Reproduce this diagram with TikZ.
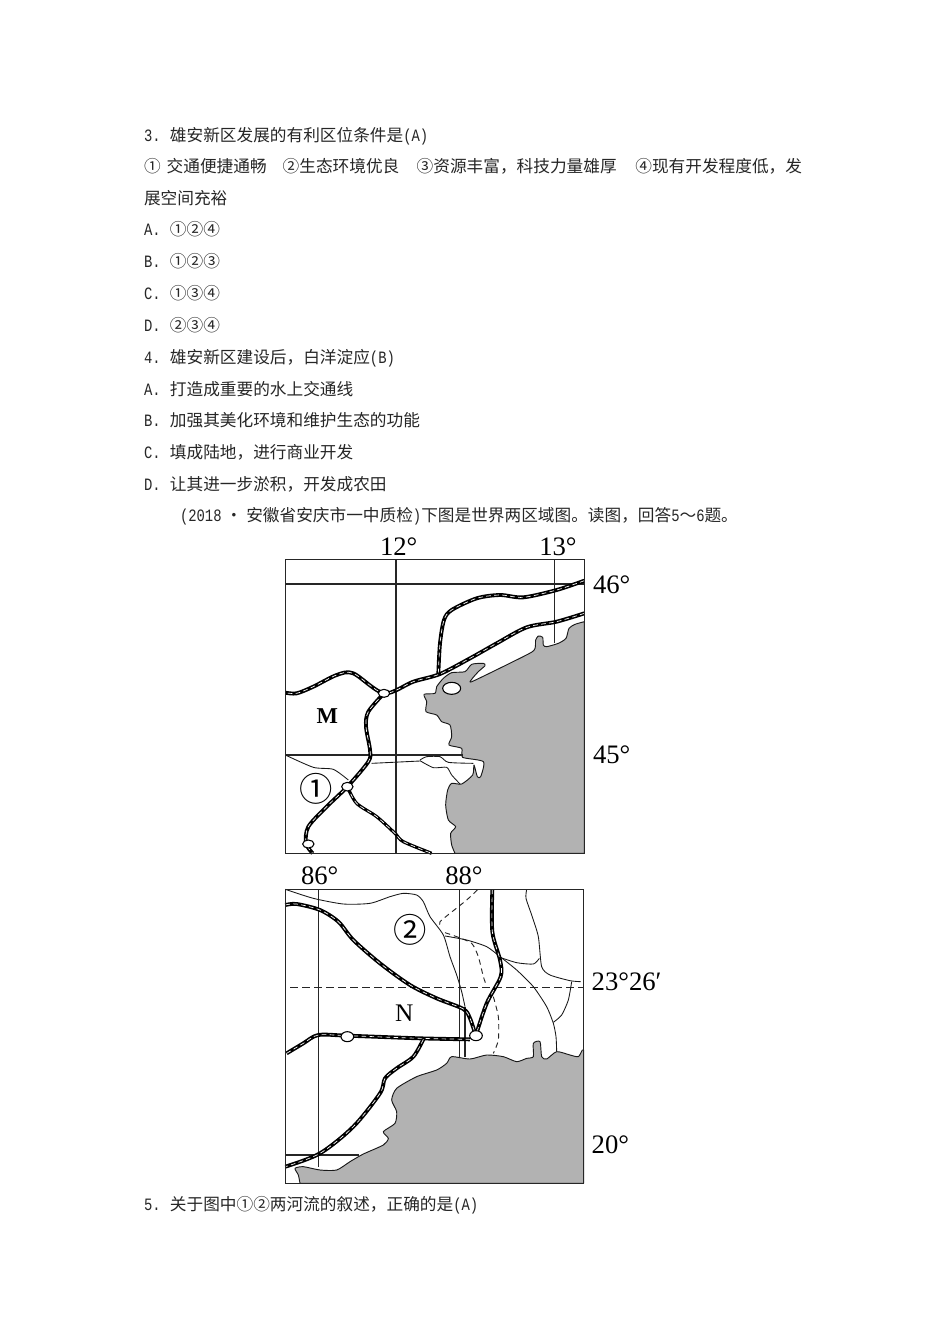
\documentclass[tikz,border=0pt]{standalone}
\usepackage{fontspec}
\setmainfont{Liberation Serif}
\newfontfamily\cjk{Noto Sans CJK SC}
\newfontfamily\lmono[FakeStretch=0.8]{Liberation Mono}
\newcommand\la[1]{{\lmono\fontsize{13}{14}\selectfont #1}}
\newcommand\gp[1]{\hspace*{#1pt}}
\newcommand\railpath[2][2.9pt]{\draw[railb,line width=#1] plot[smooth,tension=.5] coordinates {#2};\draw[railw] plot[smooth,tension=.5] coordinates {#2};}
\tikzset{
 txt/.style={anchor=base west,inner sep=0pt,outer sep=0pt,font=\cjk\fontsize{12.5}{14}\selectfont,text=black!85},
 maplab/.style={anchor=base west,inner sep=0pt,outer sep=0pt,font=\fontsize{20}{22}\selectfont},
 circ/.style={inner sep=0pt,outer sep=0pt,font=\cjk\fontsize{25}{27}\selectfont},
 frameline/.style={draw=black!85,line width=.95pt},
 gridline/.style={draw=black!85,line width=.95pt},
 riverline/.style={draw=black!90,line width=.65pt},
 dashline/.style={draw=black!85,line width=.7pt,dash pattern=on 4pt off 3pt},
 sea/.style={fill=black!30,draw=black!90,line width=.7pt,line join=round},
 railb/.style={draw=black,line join=round},
 railw/.style={draw=white,line width=.5pt,dash pattern=on 3.5pt off 2.5pt},
 station/.style={fill=white,draw=black,line width=.8pt},
}
\begin{document}
\begin{tikzpicture}[x=.75pt,y=-.75pt]
\useasboundingbox[fill=white] (0,0) rectangle (950,1344);
% body text
\node[txt] (l1) at (144,141.5) {\la{3.}\gp{7}雄安新区发展的有利区位条件是\la{(A)}};
\node[txt] (l2) at (144,173) {①\gp{4.5}交通便捷通畅\gp{12}②生态环境优良\gp{13}③资源丰富，科技力量雄厚\gp{14}④现有开发程度低，发};
\node[txt] (l3) at (144,204.5) {展空间充裕};
\node[txt] (l4) at (144,236) {\la{A.}\gp{7}①②④};
\node[txt] (l5) at (144,268) {\la{B.}\gp{7}①②③};
\node[txt] (l6) at (144,299.5) {\la{C.}\gp{7}①③④};
\node[txt] (l7) at (144,331) {\la{D.}\gp{7}②③④};
\node[txt] (l8) at (144,363) {\la{4.}\gp{7}雄安新区建设后，白洋淀应\la{(B)}};
\node[txt] (l9) at (144,395) {\la{A.}\gp{7}打造成重要的水上交通线};
\node[txt] (l10) at (144,426.5) {\la{B.}\gp{7}加强其美化环境和维护生态的功能};
\node[txt] (l11) at (144,458) {\la{C.}\gp{7}填成陆地，进行商业开发};
\node[txt] (l12) at (144,490) {\la{D.}\gp{7}让其进一步淤积，开发成农田};
\node[txt] (l13) at (180,521.5) {\la{(2018}\gp{3}•\gp{3}安徽省安庆市一中质检\la{)}下图是世界两区域图。读图，回答\la{5}～\la{6}题。};
\node[txt] (l14) at (144,1210.5) {\la{5.}\gp{7}关于图中①②两河流的叙述，正确的是\la{(A)}};
% map 1
\begin{scope}[x=.25pt,y=-.25pt,shift={(810,1590)}]
\draw[sea] plot[smooth,tension=.4] coordinates {(943,275)(915,283)(897,295)(888,325)(865,340)(830,350)(820,345)(818,322)(805,318)(797,330)(795,355)(775,372)(610,453)(605,448)(625,425)(645,407)(640,400)(605,403)(585,425)(545,428)(520,445)(500,470)(495,490)(462,493)(470,515)(468,545)(500,555)(515,575)(540,585)(545,620)(537,645)(575,655)(578,682)(640,695)(632,740)(622,740)(612,705)(608,735)(575,762)(545,760)(533,780)(527,825)(535,870)(557,890)(542,910)(545,945)(555,970)} -- (943,970) -- cycle;
\draw[station] (545,475) ellipse [x radius=27,y radius=18];
\draw[gridline] (378,88) -- (378,970);
\draw[gridline] (853,88) -- (853,340);
\draw[gridline] (46,162) -- (943,162);
\draw[gridline] (46,675) -- (578,675);
\draw[riverline] (305,700) -- (450,693);
\draw[riverline] plot[smooth,tension=.4] coordinates {(450,690)(470,680)(510,680)(535,697)(610,700)};
\draw[riverline] plot[smooth,tension=.4] coordinates {(450,692)(490,713)(530,712)(545,735)(570,762)};
\draw[riverline] plot[smooth,tension=.4] coordinates {(46,675)(130,712)(190,718)(235,750)};
\railpath{(943,152)(860,180)(760,202)(690,195)(620,205)(545,240)(522,270)(510,340)(505,430)}
\railpath{(943,250)(860,275)(770,292)(680,340)(600,385)(510,432)(430,455)(342,490)(250,430)(200,435)(130,470)(80,490)(46,488)}
\railpath{(342,490)(295,545)(288,590)(300,660)(295,695)(232,770)(170,830)(115,890)(108,940)(128,970)}
\railpath[2.4pt]{(232,770)(260,820)(320,860)(375,910)(400,935)(485,970)}
\draw[station] (342,490) ellipse [x radius=17,y radius=12];
\draw[station] (232,770) ellipse [x radius=17,y radius=13];
\draw[station] (115,942) ellipse [x radius=17,y radius=12];
\draw[frameline] (46,88) rectangle (943,970);
\end{scope}
% map 2
\begin{scope}[x=.25pt,y=-.25pt,shift={(810,2580)}]
\draw[sea] plot[smooth,tension=.4] coordinates {(90,970)(85,945)(75,925)(100,920)(150,930)(200,930)(240,905)(280,882)(340,855)(355,835)(340,815)(375,790)(380,755)(365,720)(380,685)(440,650)(500,630)(530,610)(545,590)(600,597)(650,585)(700,590)(740,605)(770,595)(790,590)(790,550)(810,545)(815,590)(830,597)(860,575)(900,585)(925,590)(937,570)(941,570)} -- (941,970) -- cycle;
\draw[gridline] (145,88) -- (145,920);
\draw[gridline] (568,88) -- (568,590);
\draw[gridline] (585,440) -- (585,590);
\draw[gridline] (46,885) -- (268,885);
\draw[dashline,dash pattern=on 6pt off 3pt] (60,382) -- (941,382);
\draw[riverline] plot[smooth,tension=.4] coordinates {(46,88)(130,115)(220,132)(300,130)(360,110)(400,100)(440,105)(460,125)(480,170)(520,225)(540,290)(560,345)(575,395)(585,440)};
\draw[dashline] plot[smooth,tension=.4] coordinates {(622,90)(590,120)(540,160)(510,185)(510,200)};
\draw[dashline] plot[smooth,tension=.4] coordinates {(525,218)(560,230)(605,250)(625,290)(640,350)(650,378)};
\draw[dashline] plot[smooth,tension=.4] coordinates {(670,410)(685,470)(685,540)(670,580)};
\draw[riverline] plot[smooth,tension=.4] coordinates {(525,228)(590,240)(650,260)(690,290)(740,330)(790,380)(830,440)(850,490)(858,530)(860,575)};
\draw[riverline] plot[smooth,tension=.4] coordinates {(770,88)(768,115)(785,165)(805,230)(815,320)(840,345)(900,362)(932,365)};
\draw[riverline] plot[smooth,tension=.4] coordinates {(690,292)(740,308)(790,312)(808,295)};
\draw[riverline] plot[smooth,tension=.4] coordinates {(905,365)(895,420)(875,465)(850,487)};
\railpath{(46,135)(80,132)(150,150)(205,185)(250,240)(330,310)(420,375)(500,415)(580,447)(600,475)(615,520)}
\railpath{(667,88)(667,215)(690,300)(692,350)(650,430)(618,525)}
\railpath{(50,580)(100,550)(145,525)(232,527)(450,535)(600,538)}
\railpath{(460,538)(430,590)(380,625)(345,655)(330,700)(250,800)(150,880)(46,920)}
\draw[station] (232,530) ellipse [x radius=19,y radius=15];
\draw[station] (618,527) ellipse [x radius=19,y radius=15];
\draw[frameline] (46,88) rectangle (941,970);
\end{scope}
% map labels
\node[maplab] (a12) at (380,555) {12°};
\node[maplab] (a13) at (539.3,555) {13°};
\node[maplab] (a46) at (593,593.3) {46°};
\node[maplab] (a45) at (593,763.3) {45°};
\node[maplab] (a86) at (301,884) {86°};
\node[maplab] (a88) at (445.3,884) {88°};
\node[maplab] (a23) at (591.7,990.7) {23°26′};
\node[maplab] (a20) at (591.7,1153) {20°};
\node[maplab,font=\bfseries\fontsize{17}{19}\selectfont] (m) at (316.7,723) {M};
\node[maplab,font=\fontsize{19}{21}\selectfont] (n) at (395,1021.7) {N};
\node[circ] (c1) at (315.7,789) {①};
\node[circ] (c2) at (410,930) {②};
\end{tikzpicture}
\end{document}
